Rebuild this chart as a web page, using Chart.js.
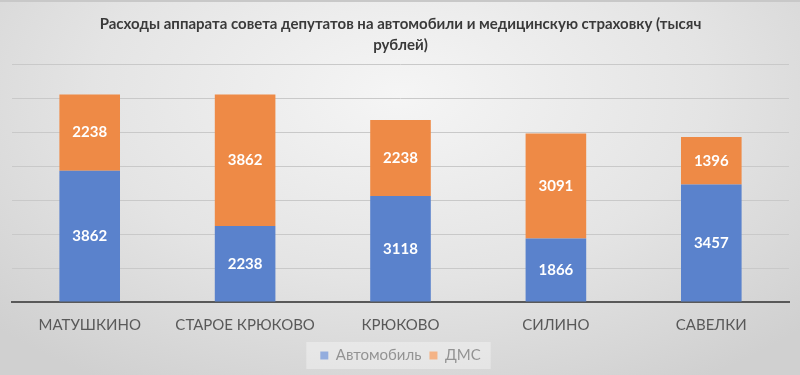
<!DOCTYPE html>
<html>
<head>
<meta charset="utf-8">
<script src="https://cdn.jsdelivr.net/npm/chart.js@4"></script>
<style>
  html, body { margin: 0; padding: 0; }
  #wrap {
    width: 800px; height: 375px; position: relative; box-sizing: border-box;
    border-top: 2px solid #c8c8c8;
    background: radial-gradient(ellipse 70% 90% at 50% 25%, #f5f5f5 0%, #e4e4e4 55%, #d0d0d0 100%);
  }
</style>
</head>
<body>
<div id="wrap"><canvas id="myChart" width="800" height="373"></canvas></div>
<script>
const categories = ['МАТУШКИНО', 'СТАРОЕ КРЮКОВО', 'КРЮКОВО', 'СИЛИНО', 'САВЕЛКИ'];
const carValues = [3862, 2238, 3118, 1866, 3457];
const dmsValues = [2238, 3862, 2238, 3091, 1396];
const titleLines = ['Расходы аппарата совета депутатов на автомобили и медицинскую страховку (тысяч', 'рублей)'];

const fontName = 'Lato, "Liberation Sans", sans-serif';

// white value labels in the middle of every segment
const valueLabels = {
  id: 'valueLabels',
  afterDatasetsDraw(chart) {
    const ctx = chart.ctx;
    ctx.save();
    ctx.fillStyle = '#ffffff';
    ctx.font = 'bold 15px ' + fontName;
    ctx.textAlign = 'center';
    ctx.textBaseline = 'middle';
    chart.data.datasets.forEach((ds, i) => {
      chart.getDatasetMeta(i).data.forEach((bar, j) => {
        const p = bar.getProps(['x', 'y', 'base'], true);
        ctx.fillText(ds.data[j], p.x, (p.y + p.base) / 2);
      });
    });
    ctx.restore();
  }
};

// pale box behind the legend
const legendBox = {
  id: 'legendBox',
  beforeDatasetsDraw(chart) {
    const boxes = chart.legend && chart.legend.legendHitBoxes;
    if (!boxes || !boxes.length) return;
    const left = Math.min(...boxes.map(b => b.left)) - 14;
    const right = Math.max(...boxes.map(b => b.left + b.width)) + 10;
    const top = boxes[0].top - 6;
    const ctx = chart.ctx;
    ctx.save();
    ctx.fillStyle = 'rgba(255,255,255,0.35)';
    ctx.fillRect(left, top, right - left, boxes[0].height + 12);
    ctx.restore();
  }
};

const ctx = document.getElementById('myChart');

new Chart(ctx, {
  type: 'bar',
  data: {
    labels: categories,
    datasets: [
      { label: 'Автомобиль', data: carValues, backgroundColor: '#5a82cc', borderWidth: 0 },
      { label: 'ДМС', data: dmsValues, backgroundColor: '#ee8a46', borderWidth: 0 }
    ]
  },
  options: {
    responsive: false,
    animation: false,
    categoryPercentage: 1,
    barPercentage: 0.39,
    layout: { padding: { left: 12, right: 11, top: 10, bottom: 2 } },
    scales: {
      x: {
        stacked: true,
        grid: { display: false },
        border: { color: '#595959', width: 2 },
        ticks: { color: '#595959', font: { family: fontName, size: 15 }, padding: 6 }
      },
      y: {
        stacked: true,
        min: 0,
        max: 7000,
        grid: { color: '#c9c9c9', lineWidth: 1, drawTicks: false },
        border: { display: false },
        ticks: { display: false, stepSize: 1000 }
      }
    },
    plugins: {
      title: {
        display: true,
        text: titleLines,
        color: '#3a3a3a',
        font: { family: fontName, size: 15, weight: 'bold', lineHeight: 1.4 },
        padding: { top: 2, bottom: 8 }
      },
      legend: {
        position: 'bottom',
        labels: {
          color: '#595959',
          font: { family: fontName, size: 15 },
          boxWidth: 8,
          boxHeight: 8,
          padding: 8
        }
      },
      tooltip: { enabled: false }
    }
  },
  plugins: [valueLabels, legendBox]
});
</script>
</body>
</html>
